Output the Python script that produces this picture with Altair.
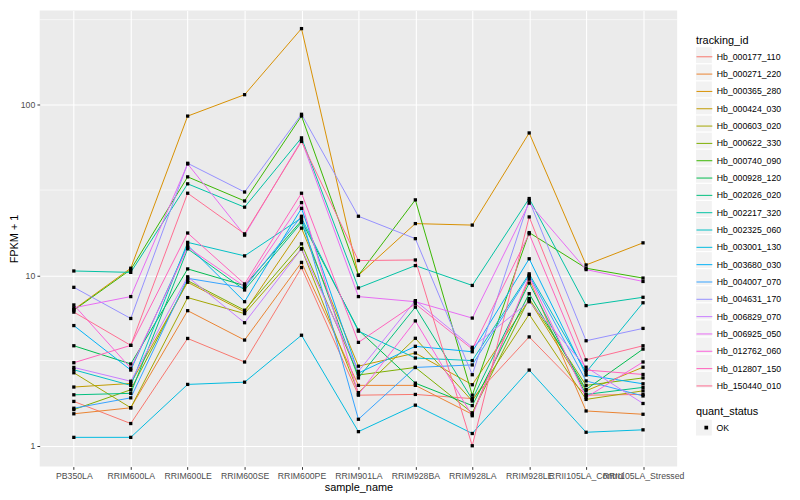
import altair as alt
import pandas as pd

samples = ["PB350LA", "RRIM600LA", "RRIM600LE", "RRIM600SE", "RRIM600PE", "RRIM901LA",
           "RRIM928BA", "RRIM928LA", "RRIM928LE", "RRII105LA_Control", "RRII105LA_Stressed"]

tracking_ids = ["Hb_000177_110", "Hb_000271_220", "Hb_000365_280", "Hb_000424_030",
                "Hb_000603_020", "Hb_000622_330", "Hb_000740_090", "Hb_000928_120",
                "Hb_002026_020", "Hb_002217_320", "Hb_002325_060", "Hb_003001_130",
                "Hb_003680_030", "Hb_004007_070", "Hb_004631_170", "Hb_006829_070",
                "Hb_006925_050", "Hb_012762_060", "Hb_012807_150", "Hb_150440_010"]

palette = ["#F8766D", "#EA8331", "#D89000", "#C09B00", "#A3A500", "#7CAE00", "#39B600",
           "#00BB4E", "#00BF7D", "#00C1A3", "#00BFC4", "#00BAE0", "#00B0F6", "#35A2FF",
           "#9590FF", "#C77CFF", "#E76BF3", "#FA62DB", "#FF62BC", "#FF6C91"]

status_levels = ["OK"]

# FPKM + 1 per sample (order of `samples`)
hb_000177_110 = [1.82, 1.35, 4.26, 3.10, 11.1, 1.98, 2.00, 1.89, 4.35, 1.98, 2.00]
hb_000271_220 = [1.54, 1.67, 6.20, 4.17, 11.9, 2.26, 2.26, 1.53, 9.50, 1.60, 1.53]
hb_000365_280 = [6.30, 11.0, 85.9, 114.7, 280.0, 10.0, 20.1, 19.7, 68.4, 11.5, 15.5]
hb_000424_030 = [2.21, 2.32, 9.10, 6.10, 18.9, 2.93, 3.50, 2.28, 7.15, 2.10, 2.89]
hb_000603_020 = [2.68, 1.67, 7.40, 5.96, 14.3, 2.05, 4.27, 1.83, 5.90, 1.87, 2.10]
hb_000622_330 = [1.63, 2.13, 9.30, 6.24, 15.3, 2.60, 2.88, 1.56, 7.30, 2.26, 2.50]
hb_000740_090 = [6.24, 10.8, 37.8, 27.3, 86.0, 10.0, 27.7, 1.98, 17.8, 11.0, 9.63]
hb_000928_120 = [3.86, 3.02, 10.9, 8.70, 20.9, 4.77, 2.33, 1.72, 7.80, 2.14, 3.69]
hb_002026_020 = [1.99, 2.03, 14.3, 8.20, 20.4, 2.50, 6.50, 1.87, 9.00, 2.00, 2.20]
hb_002217_320 = [10.6, 10.4, 34.4, 25.1, 64.0, 8.43, 11.4, 8.72, 28.2, 6.64, 7.43]
hb_002325_060 = [2.79, 2.26, 15.6, 13.0, 21.7, 4.70, 3.27, 3.16, 10.2, 2.70, 6.90]
hb_003001_130 = [1.12, 1.12, 2.29, 2.36, 4.45, 1.21, 1.73, 1.18, 2.78, 1.20, 1.24]
hb_003680_030 = [5.07, 2.78, 15.0, 7.00, 24.7, 2.67, 3.83, 3.56, 12.5, 2.60, 2.31]
hb_004007_070 = [1.66, 1.91, 9.60, 8.46, 22.2, 1.43, 2.88, 2.98, 10.0, 2.40, 1.96]
hb_004631_170 = [8.50, 5.58, 45.4, 30.8, 88.0, 22.2, 16.4, 2.61, 27.5, 4.13, 4.88]
hb_006829_070 = [2.88, 2.39, 9.80, 5.27, 14.3, 2.73, 7.10, 3.78, 7.00, 2.89, 1.77]
hb_006925_050 = [6.45, 7.50, 45.0, 17.2, 62.0, 7.50, 7.00, 5.61, 26.5, 10.8, 9.20]
hb_012762_060 = [6.70, 2.85, 14.6, 8.60, 26.7, 2.00, 5.40, 1.50, 9.85, 1.92, 3.10]
hb_012807_150 = [3.07, 3.88, 17.7, 8.90, 30.3, 4.04, 6.80, 3.69, 17.5, 2.78, 2.62]
hb_150440_010 = [6.08, 3.88, 30.3, 17.5, 61.0, 12.2, 12.3, 1.00, 22.0, 3.19, 3.86]

series = [hb_000177_110, hb_000271_220, hb_000365_280, hb_000424_030, hb_000603_020,
          hb_000622_330, hb_000740_090, hb_000928_120, hb_002026_020, hb_002217_320,
          hb_002325_060, hb_003001_130, hb_003680_030, hb_004007_070, hb_004631_170,
          hb_006829_070, hb_006925_050, hb_012762_060, hb_012807_150, hb_150440_010]

y_ticks = [1, 10, 100]
y_minor = [3.1623, 31.623, 316.23]
y_domain = [0.7545, 357.8]

rows = []
for tid, vals in zip(tracking_ids, series):
    for i, (s, v) in enumerate(zip(samples, vals)):
        rows.append({"tracking_id": tid, "key_bg": tid, "sample_name": s, "idx": i,
                     "fpkm": v, "quant_status": "OK", "status_bg": "OK"})
df = pd.DataFrame(rows)

FONT = "Liberation Sans"
KEY = "#F2F2F2"
yscale = alt.Scale(type="log", domain=y_domain, nice=False)
xscale = alt.Scale(type="point", padding=0.6, domain=samples)

x_axis = alt.Axis(title="sample_name", labelAngle=0, labelOverlap=False,
                  labelBound=False, labelFontSize=8.8, labelColor="#4D4D4D",
                  labelFont=FONT, tickColor="#333333", tickSize=2.75,
                  labelPadding=2.2, titleFontSize=11, titleFont=FONT,
                  titleFontWeight="normal", titleColor="black",
                  titlePadding=1.5, domain=False, grid=True,
                  gridColor="white", gridWidth=1.1)
y_axis = alt.Axis(title="FPKM + 1", values=y_ticks, format="d",
                  labelFontSize=8.8, labelColor="#4D4D4D", labelFont=FONT,
                  tickColor="#333333", tickSize=2.75, labelPadding=2.2,
                  titleFontSize=11, titleFont=FONT, titleFontWeight="normal",
                  titleColor="black", titlePadding=1.0, domain=False,
                  grid=True, gridColor="white", gridWidth=1.1)

x_enc = alt.X("sample_name:N", scale=xscale, sort=samples, axis=x_axis)
y_enc = alt.Y("fpkm:Q", scale=yscale, axis=y_axis)

common_legend = dict(orient="none", legendX=663, labelFontSize=8.8, titleFontSize=11,
                     labelFont=FONT, titleFont=FONT, titleFontWeight="normal",
                     labelColor="black", titleColor="black", padding=0)

# grey key backgrounds (legend only, no visible marks)
key_bg = alt.Chart(df).transform_filter("false").mark_square(size=10).encode(
    x=x_enc, y=y_enc,
    fill=alt.Fill("key_bg:N", scale=alt.Scale(domain=tracking_ids, range=[KEY] * len(tracking_ids)),
                  legend=alt.Legend(title=" ", legendY=25.2, symbolType="square",
                                    symbolSize=256, symbolStrokeWidth=0, symbolOpacity=1,
                                    rowPadding=1.25, titlePadding=1.0, labelOffset=4,
                                    labelExpr="''", **common_legend)),
)
status_bg = alt.Chart(df).transform_filter("false").mark_square(size=10).encode(
    x=x_enc, y=y_enc,
    fill=alt.Fill("status_bg:N", scale=alt.Scale(domain=status_levels, range=[KEY]),
                  legend=alt.Legend(title=" ", legendY=399.5, symbolType="square",
                                    symbolSize=256, symbolStrokeWidth=0, symbolOpacity=1,
                                    titlePadding=2.9, labelOffset=4,
                                    labelExpr="''", **common_legend)),
)

minor = alt.Chart(pd.DataFrame({"fpkm": y_minor})).mark_rule(
    color="white", strokeWidth=0.55).encode(y=y_enc)

lines = alt.Chart(df).mark_line(strokeWidth=1).encode(
    x=x_enc, y=y_enc,
    stroke=alt.Stroke("tracking_id:N",
                      scale=alt.Scale(domain=tracking_ids, range=palette),
                      legend=alt.Legend(title="tracking_id", legendY=25.2, symbolType="stroke",
                                        symbolSize=256, symbolStrokeWidth=1,
                                        rowPadding=3.5, titlePadding=2.1, labelOffset=4,
                                        **common_legend)),
    order=alt.Order("idx:Q"),
)

points = alt.Chart(df).mark_point(filled=True, color="black", size=11, opacity=1).encode(
    x=x_enc, y=y_enc,
    shape=alt.Shape("quant_status:N",
                    scale=alt.Scale(domain=status_levels, range=["square"]),
                    legend=alt.Legend(title="quant_status", legendY=399.5, symbolSize=14,
                                      symbolFillColor="black", symbolStrokeColor="black",
                                      symbolOffset=6, labelOffset=6, titlePadding=6.5,
                                      **common_legend)),
)

chart = alt.layer(key_bg, status_bg, minor, lines, points).resolve_scale(
    fill="independent"
).resolve_legend(
    fill="independent", stroke="independent", shape="independent"
).properties(
    width=644, height=460.8,
    background="white",
    autosize=alt.AutoSizeParams(type="none"),
    padding={"left": 32, "top": 0, "right": 116, "bottom": 26},
).configure_view(fill="#EBEBEB", stroke=None)

chart.save("out.html", embed_options={"renderer": "svg", "actions": False})
